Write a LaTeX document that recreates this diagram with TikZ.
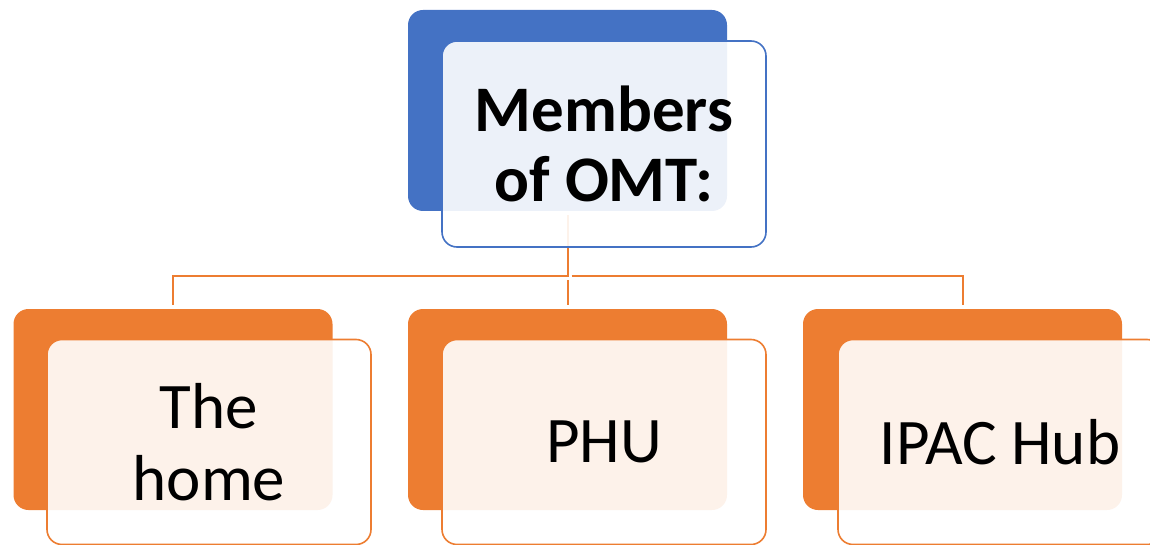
\documentclass[tikz,border=0pt]{standalone}
\usepackage{fontspec}
\setmainfont{Carlito}
\definecolor{obBlue}{HTML}{4472C4}
\definecolor{obOrange}{HTML}{ED7D31}
\begin{document}
\begin{tikzpicture}[x=1pt,y=-1pt,
  backbox/.style={rectangle,rounded corners=15pt,inner sep=0pt,minimum width=319pt,minimum height=201pt,draw=none},
  frontbox/.style={rectangle,rounded corners=15pt,inner sep=0pt,minimum width=324pt,minimum height=205pt,fill=white,fill opacity=0.9,text opacity=1,line width=1.6pt,align=center,font=\fontsize{65}{72}\selectfont},
  conn/.style={draw=obOrange,line width=2pt,shorten <=4pt,shorten >=4pt}]
\useasboundingbox (0,0) rectangle (1150,545);
% back boxes
\node[backbox,fill=obBlue] (tb) at (567.5,110.5) {};
\node[backbox,fill=obOrange] (b1) at (173,409.5) {};
\node[backbox,fill=obOrange] (b2) at (567.5,409.5) {};
\node[backbox,fill=obOrange] (b3) at (962.5,409.5) {};
% connectors
\coordinate (bus) at (567.5,276);
\draw[conn] (tb.south) -- (bus) -| (b1.north);
\draw[conn] (bus) -| (b3.north);
\draw[conn] (bus) -- (b2.north);
% front boxes
\node[frontbox,draw=obBlue,minimum height=206pt,font=\bfseries\fontsize{65}{70}\selectfont] (tf) at (604,144) {Members\\of OMT:};
\node[frontbox,draw=obOrange] (f1) at (209,442) {The\\home};
\node[frontbox,draw=obOrange] (f2) at (604,442) {PHU};
\node[frontbox,draw=obOrange] (f3) at (1000,442) {IPAC Hub};
\end{tikzpicture}
\end{document}
